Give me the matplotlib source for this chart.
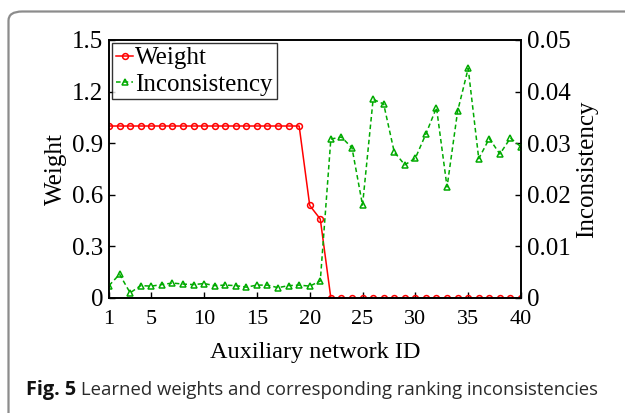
import matplotlib
matplotlib.use("Agg")
import matplotlib.pyplot as plt
from matplotlib.patches import FancyBboxPatch
import numpy as np

ids = list(range(1, 41))
weight = [1.0]*19 + [0.538, 0.459] + [0.0]*19
inconsistency = [0.0024, 0.0046, 0.0010, 0.0024, 0.0023, 0.0026, 0.0029, 0.0027, 0.0026, 0.0028,
                 0.0024, 0.0025, 0.0024, 0.0021, 0.0025, 0.0025, 0.0020, 0.0024, 0.0025, 0.0023,
                 0.0033, 0.0308, 0.0312, 0.0291, 0.0180, 0.0385, 0.0376, 0.0283, 0.0258, 0.0271,
                 0.0318, 0.0369, 0.0215, 0.0362, 0.0445, 0.0270, 0.0309, 0.0279, 0.0310, 0.0293]
xticks = [1, 5, 10, 15, 20, 25, 30, 35, 40]
wticks = [0, 0.3, 0.6, 0.9, 1.2, 1.5]
wticklabels = ["0", "0.3", "0.6", "0.9", "1.2", "1.5"]
iticks = [0, 0.01, 0.02, 0.03, 0.04, 0.05]
iticklabels = ["0", "0.01", "0.02", "0.03", "0.04", "0.05"]

plt.rcParams['font.family'] = ['Liberation Serif', 'DejaVu Serif']
fig = plt.figure(figsize=(6.25, 4.13), dpi=100)

# outer frame
frame = FancyBboxPatch((8.5/625, -0.1), 1.2, 1 - 11.5/413 + 0.1,
                       boxstyle="round,pad=0,rounding_size=0.022",
                       transform=fig.transFigure, facecolor='none',
                       edgecolor='#8c8c8c', linewidth=1.6, clip_on=False)
fig.patches.append(frame)

ax = fig.add_axes([109/625, 1-298/413, (521-109)/625, (298-40)/413])
ax2 = ax.twinx()

l1, = ax.plot(ids, weight, '-o', color='#ff0000', lw=1.1, ms=4.2,
              markerfacecolor='none', markeredgewidth=1.1, label='Weight')
l2, = ax2.plot(ids, inconsistency, linestyle=(0, (3, 2)), marker='^', color='#00aa00',
               lw=1.1, ms=4.6, markerfacecolor='none', markeredgewidth=1.1,
               label='Inconsistency')

ax.set_xlim(1, 40)
ax.set_ylim(0, 1.5)
ax2.set_ylim(0, 0.05)
ax.set_xticks(xticks)
ax.set_yticks(wticks)
ax.set_yticklabels(wticklabels)
ax2.set_yticks(iticks)
ax2.set_yticklabels(iticklabels)

for a in (ax, ax2):
    a.tick_params(direction='in', length=4, width=1)
    for s in a.spines.values():
        s.set_linewidth(1.2)
ax.tick_params(axis='x', pad=9, labelsize=16)
ax.tick_params(axis='y', pad=4, labelsize=18)
ax2.tick_params(axis='y', pad=4, labelsize=18)

ax.set_xlabel('Auxiliary network ID', fontsize=17.5, labelpad=9)
ax.set_ylabel('Weight', fontsize=18, labelpad=4)
ax2.set_ylabel('Inconsistency', fontsize=18, labelpad=4)

leg = ax.legend([l1, l2], ['Weight', 'Inconsistency'], loc='upper left',
                fontsize=18, frameon=True, fancybox=False, borderaxespad=0.12,
                handlelength=0.7, handletextpad=0.08, borderpad=0.15, labelspacing=0.15)
leg.get_frame().set_edgecolor('black')
leg.get_frame().set_linewidth(1.0)
leg.set_zorder(10)

fig.text(26/625, 1-395/413, 'Fig. 5', fontsize=14.3, fontweight='bold',
         family='Open Sans', va='baseline', ha='left', color='#111111')
fig.text(81/625, 1-395/413, 'Learned weights and corresponding ranking inconsistencies',
         fontsize=13.3, family='Open Sans', va='baseline', ha='left', color='#2a2a2a')

fig.savefig('out.png', dpi=100)
